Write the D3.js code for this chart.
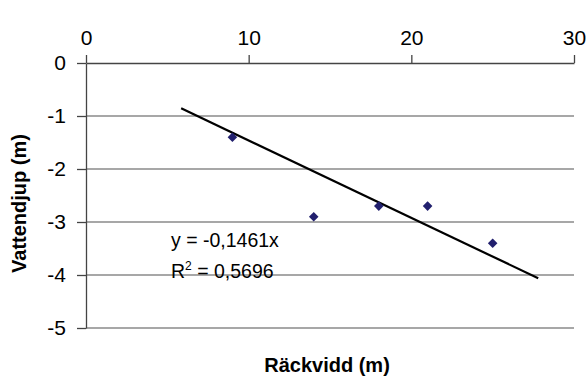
<!DOCTYPE html>
<html>
<head>
<meta charset="utf-8">
<script src="https://cdn.jsdelivr.net/npm/d3@7"></script>
<style>
  html, body { margin: 0; padding: 0; background: #fff; }
  svg { display: block; font-family: Arial, "Liberation Sans", sans-serif; }
</style>
</head>
<body>
<svg id="chart" width="586" height="376"></svg>
<script>
// measured points (Räckvidd vs Vattendjup)
const reach = [9, 14, 18, 21, 25];
const depth = [-1.4, -2.9, -2.7, -2.7, -3.4];

const xTicks = [0, 10, 20, 30];
const yTicks = [0, -1, -2, -3, -4, -5];

// linear trend through origin, as Excel drew it
const trendSlope = -0.1461;
const trendFrom = 5.85;
const trendTo = 27.8;
const equationText = 'y = -0,1461x';
const rSquaredText = ' = 0,5696';

const xTitle = 'Räckvidd (m)';
const yTitle = 'Vattendjup (m)';

const width = 586;
const height = 376;
const margin = { top: 63, right: 12, bottom: 48, left: 86 };
const chartWidth = width - margin.left - margin.right;
const chartHeight = height - margin.top - margin.bottom;

const svg = d3.select('#chart');

const xScale = d3.scaleLinear().domain([0, 30]).range([0, chartWidth]);
const yScale = d3.scaleLinear().domain([-5, 0]).range([chartHeight, 0]);

const g = svg
  .append('g')
  .attr('transform', `translate(${margin.left},${margin.top})`);

// horizontal gridlines
g.append('g')
  .selectAll('line')
  .data(yTicks.filter((d) => d !== 0))
  .join('line')
  .attr('x1', 0)
  .attr('x2', chartWidth)
  .attr('y1', (d) => yScale(d))
  .attr('y2', (d) => yScale(d))
  .attr('stroke', '#8a8a8a')
  .attr('stroke-width', 1.4);

const xAxis = d3
  .axisTop(xScale)
  .tickValues(xTicks)
  .tickSize(8)
  .tickSizeOuter(0)
  .tickPadding(10)
  .tickFormat((d) => String(d));

const yAxis = d3
  .axisLeft(yScale)
  .tickValues(yTicks)
  .tickSize(9)
  .tickSizeOuter(0)
  .tickPadding(11)
  .tickFormat((d) => String(d));

const xg = g.append('g').attr('class', 'x axis').call(xAxis);
const yg = g.append('g').attr('class', 'y axis').call(yAxis);

[xg, yg].forEach((ax) => {
  ax.select('.domain').attr('stroke', '#444').attr('stroke-width', 1.3);
  ax.selectAll('.tick line').attr('stroke', '#444').attr('stroke-width', 1.3);
  ax.selectAll('.tick text')
    .attr('fill', '#000')
    .style('font-size', '21px')
    .style('font-family', 'Arial, "Liberation Sans", sans-serif');
});

// trendline
const trendLine = d3
  .line()
  .x((d) => xScale(d))
  .y((d) => yScale(trendSlope * d));

g.append('path')
  .datum([trendFrom, trendTo])
  .attr('fill', 'none')
  .attr('stroke', '#000')
  .attr('stroke-width', 2.2)
  .attr('d', trendLine);

// data markers (diamonds)
const diamond = d3.symbol().type(d3.symbolSquare).size(46);

g.append('g')
  .selectAll('path')
  .data(reach.map((x, i) => ({ x: x, y: depth[i] })))
  .join('path')
  .attr('d', diamond)
  .attr('fill', '#22206e')
  .attr('transform', (d) => `translate(${xScale(d.x)},${yScale(d.y)}) rotate(45)`);

// equation label
const eq = g
  .append('g')
  .attr('transform', 'translate(85,184)')
  .style('font-size', '19.5px')
  .attr('fill', '#000');

eq.append('text').attr('x', 0).attr('y', 0).text(equationText);

const r2 = eq.append('text').attr('x', 0).attr('y', 31);
r2.append('tspan').text('R');
r2.append('tspan').attr('dy', -8).style('font-size', '12px').text('2');
r2.append('tspan').attr('dy', 8).text(rSquaredText);

// axis titles
svg
  .append('text')
  .attr('x', margin.left + chartWidth / 2 - 3)
  .attr('y', 372)
  .attr('text-anchor', 'middle')
  .style('font-size', '20px')
  .style('font-weight', 'bold')
  .text(xTitle);

svg
  .append('text')
  .attr('transform', `translate(26,${margin.top + chartHeight / 2 + 8}) rotate(-90)`)
  .attr('text-anchor', 'middle')
  .style('font-size', '20px')
  .style('font-weight', 'bold')
  .text(yTitle);
</script>
</body>
</html>
